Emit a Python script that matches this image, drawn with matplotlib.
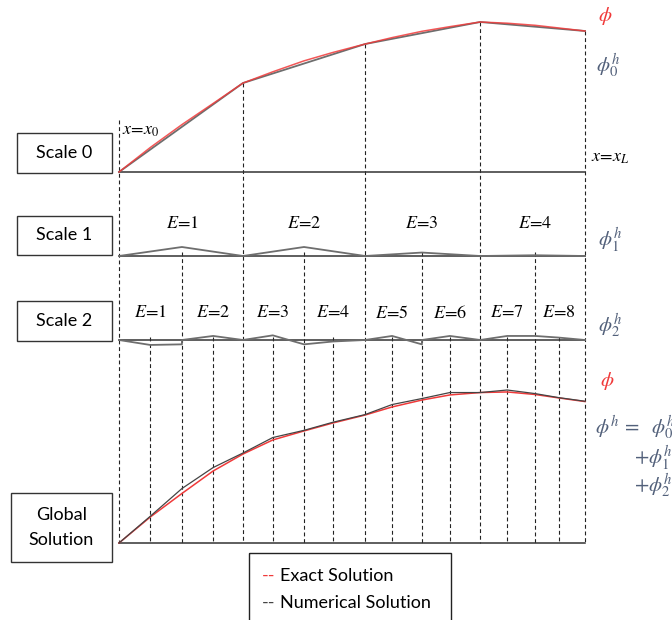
import matplotlib.pyplot as plt
from matplotlib.patches import Rectangle
from matplotlib.transforms import Affine2D
import numpy as np

plt.rcParams['mathtext.fontset'] = 'stix'

# node positions on [0, 1]: scale-0 nodes are every 4th, scale-1 every 2nd
x_nodes = [0.000, 0.067, 0.135, 0.202, 0.266, 0.330, 0.397, 0.459, 0.528,
           0.586, 0.650, 0.710, 0.775, 0.833, 0.893, 0.944, 1.000]

# exact solution phi at the nodes (global panel)
phi_exact = [0.000, 0.173, 0.330, 0.480, 0.593, 0.687, 0.747, 0.800, 0.853,
             0.907, 0.953, 0.987, 1.003, 1.007, 0.990, 0.967, 0.943]

# exact solution as drawn over the scale-0 panel
phi_exact_s0 = [0.000, 0.163, 0.316, 0.457, 0.593, 0.668, 0.741, 0.797, 0.853,
                0.896, 0.938, 0.969, 1.000, 0.992, 0.978, 0.960, 0.940]

# numerical (summed) solution at the nodes
phi_num = [0.000, 0.178, 0.363, 0.503, 0.600, 0.703, 0.751, 0.805, 0.856,
           0.923, 0.963, 1.003, 1.003, 1.020, 0.996, 0.969, 0.945]

# scale 0 solution on the coarse nodes
phi0 = [0.000, 0.593, 0.853, 1.000, 0.940]

# scale 1 detail on the coarse + mid nodes
phi1 = [0.000, 0.060, 0.000, 0.060, 0.000, 0.023, 0.000, 0.005, 0.000]

# scale 2 detail (repeated x marks a jump)
phi2_x = [0.000, 0.067, 0.135, 0.135, 0.202, 0.266, 0.330, 0.397, 0.459,
          0.528, 0.586, 0.650, 0.650, 0.710, 0.775, 0.833, 0.893, 0.944, 1.000]
phi2 = [0.000, -0.033, -0.029, 0.000, 0.027, 0.000, 0.031, -0.029, -0.010,
        0.000, 0.027, -0.029, 0.000, 0.027, 0.000, 0.027, 0.027, 0.016, 0.000]

scale1_labels = ["$E$=%d" % (i + 1) for i in range(4)]
scale2_labels = ["$E$=%d" % (i + 1) for i in range(8)]

X0, X_SPAN, Y_UNIT = 119, 466, 150
BASE = {"s0": 172, "s1": 256, "s2": 340, "glob": 543}

RED = "#f03a3a"
GREY = "#6e6e6e"
LABEL = "#52607a"

fig = plt.figure(figsize=(6.72, 6.2), dpi=100)
ax = fig.add_axes([0, 0, 1, 1])
ax.set_xlim(0, 672)
ax.set_ylim(620, 0)
ax.axis("off")


def panel(base):
    return Affine2D().scale(X_SPAN, -Y_UNIT).translate(X0, base) + ax.transData


xn = np.array(x_nodes)
coarse = xn[::4]
mids = xn[2::4]
quarters = xn[1::2]

# vertical dashed guide lines
dash = dict(color="#222222", lw=0.8, ls=(0, (3.5, 2.5)))
for i, xc in enumerate(coarse):
    top_px = 120 if i == 0 else BASE["s0"] - phi0[i] * Y_UNIT
    ax.plot([X0 + X_SPAN * xc] * 2, [top_px, BASE["glob"]], **dash)
for xc in mids:
    ax.plot([X0 + X_SPAN * xc] * 2, [BASE["s1"] - 4, BASE["glob"]], **dash)
for xc in quarters:
    ax.plot([X0 + X_SPAN * xc] * 2, [BASE["s2"] - 3, BASE["glob"]], **dash)

# baselines
for key in BASE:
    ax.plot([0, 1], [0, 0], color="#333333", lw=1.1, transform=panel(BASE[key]))

# scale 0
t0 = panel(BASE["s0"])
ax.plot(coarse, phi0, color=GREY, lw=1.3, transform=t0)
ax.plot(x_nodes, phi_exact_s0, color=RED, lw=1.1, alpha=0.85, transform=t0)

# scale 1
t1 = panel(BASE["s1"])
ax.plot(xn[::2], phi1, color=GREY, lw=1.3, transform=t1)

# scale 2
t2 = panel(BASE["s2"])
ax.plot(phi2_x, phi2, color=GREY, lw=1.3, transform=t2)

# global solution
tg = panel(BASE["glob"])
ax.plot(x_nodes, phi_exact, color=RED, lw=1.1, transform=tg)
ax.plot(x_nodes, phi_num, color="#444444", lw=0.9, transform=tg)

# element labels
math_kw = dict(fontsize=13, ha="center", va="center", family="STIXGeneral")
for xc, lab in zip(mids, scale1_labels):
    ax.text(X0 + X_SPAN * xc, 224, lab, **math_kw)
for xc, lab in zip(quarters, scale2_labels):
    ax.text(X0 + X_SPAN * xc, 313, lab, **math_kw)

# side labels
ax.text(122, 130, r"$x\!=\!x_0$", fontsize=13, ha="left", va="center")
ax.text(591, 157, r"$x\!=\!x_L$", fontsize=13, ha="left", va="center")
ax.text(598, 16, r"$\phi$", fontsize=15, color=RED, ha="left", va="center")
ax.text(596, 66, r"$\phi_0^h$", fontsize=15, color=LABEL, ha="left", va="center")
ax.text(598, 240, r"$\phi_1^h$", fontsize=15, color=LABEL, ha="left", va="center")
ax.text(598, 326, r"$\phi_2^h$", fontsize=15, color=LABEL, ha="left", va="center")
ax.text(600, 381, r"$\phi$", fontsize=15, color=RED, ha="left", va="center")
ax.text(595, 428, r"$\phi^h\!\ =\ \ \phi_0^h$", fontsize=15, color=LABEL,
        ha="left", va="center")
ax.text(634, 458, r"$+\phi_1^h$", fontsize=15, color=LABEL, ha="left", va="center")
ax.text(634, 486, r"$+\phi_2^h$", fontsize=15, color=LABEL, ha="left", va="center")

# scale boxes
boxes = [
    ("Scale 0", 17, 133, 95, 40),
    ("Scale 1", 17, 216, 95, 39),
    ("Scale 2", 17, 301, 95, 40),
    ("Global\nSolution", 11, 493, 101, 69),
]
for text, bx, by, bw, bh in boxes:
    ax.add_patch(Rectangle((bx, by), bw, bh, fill=False, ec="#333333", lw=1))
    ax.text(bx + bw / 2, by + bh / 2, text, fontsize=13, family="Lato",
            ha="center", va="center", linespacing=1.75)

# legend box
ax.add_patch(Rectangle((249, 553), 202, 80, fill=False, ec="#222222", lw=1,
                       clip_on=False))
ax.text(262, 576, "--", color=RED, fontsize=13, family="Lato", va="center")
ax.text(280, 576, "Exact Solution", fontsize=13, family="Lato", va="center")
ax.text(262, 603, "--", color="#444444", fontsize=13, family="Lato", va="center")
ax.text(280, 603, "Numerical Solution", fontsize=13, family="Lato", va="center")

fig.savefig("out.png", dpi=100)
